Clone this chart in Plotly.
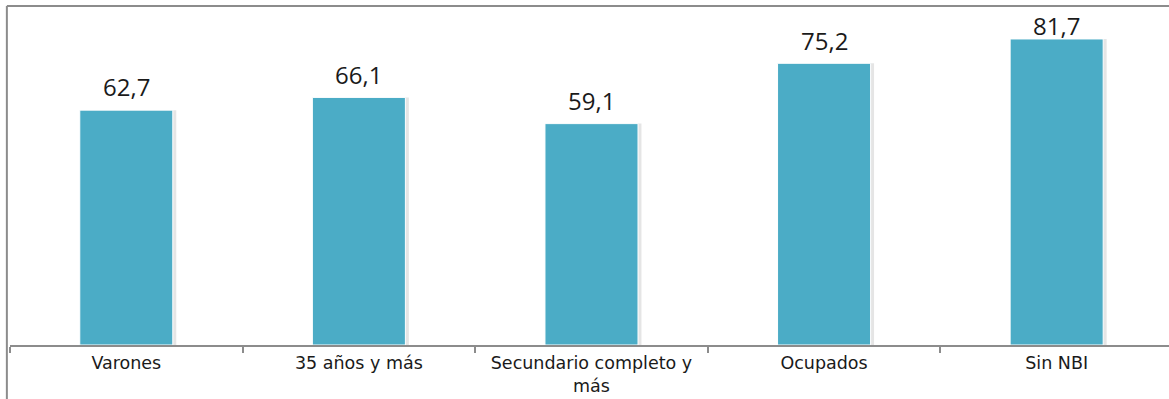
import plotly.graph_objects as go

categories = ["Varones", "35 años y más", "Secundario completo y<br>más", "Ocupados", "Sin NBI"]
values = [62.7, 66.1, 59.1, 75.2, 81.7]
labels = [f"{v:.1f}".replace(".", ",") for v in values]

BAR = "#4BACC6"
GRAY = "#8c8c8c"
YMAX = 90.5
LABEL_CAP = 85.4  # labels are kept inside the chart area, as in the original

fig = go.Figure()
# soft shadow behind each bar
fig.add_trace(go.Bar(
    x=categories, y=values, width=0.41, offset=-0.195,
    marker=dict(color="rgba(0,0,0,0.10)", line=dict(width=0)),
    hoverinfo="skip", showlegend=False,
))
fig.add_trace(go.Bar(
    x=categories, y=values, width=0.4,
    marker=dict(color=BAR, line=dict(color="white", width=1)),
    showlegend=False,
))
fig.update_layout(barmode="overlay")

for c, v, t in zip(categories, values, labels):
    ly = min(v + 6.2, LABEL_CAP)
    fig.add_annotation(x=c, y=ly, text=t, showarrow=False, yanchor="middle",
                       font=dict(family="Open Sans", size=24, color="#1a1a1a"))

fig.update_layout(
    width=1169, height=399,
    margin=dict(l=10, r=0, t=6, b=54),
    paper_bgcolor="white", plot_bgcolor="white",
    font=dict(family="DejaVu Sans", size=17.5, color="#1a1a1a"),
    xaxis=dict(
        type="category", range=[-0.5, 4.483],
        showline=True, linecolor=GRAY, linewidth=1.5,
        ticks="outside", tickson="boundaries", ticklen=6, tickcolor=GRAY, tickwidth=1.5,
        showgrid=False, tickfont=dict(family="DejaVu Sans", size=17.5, color="#1a1a1a"),
        ticklabelstandoff=1,
    ),
    yaxis=dict(range=[0, YMAX], visible=False, showgrid=False, zeroline=False),
    shapes=[
        dict(type="line", xref="paper", yref="paper", x0=-0.0027, x1=1.0, y0=1.0, y1=1.0,
             line=dict(color=GRAY, width=2)),
        dict(type="line", xref="paper", yref="paper", x0=-0.0027, x1=-0.0027, y0=1.0, y1=-0.2,
             line=dict(color=GRAY, width=2)),
    ],
)

fig.write_html("out.html")
